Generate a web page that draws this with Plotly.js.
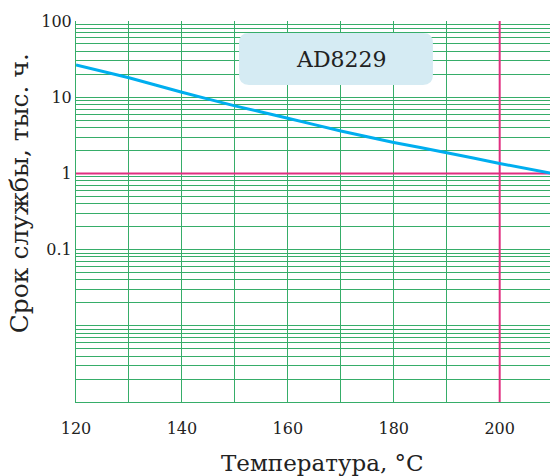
<!DOCTYPE html>
<html>
<head>
<meta charset="utf-8">
<script src="https://cdn.plot.ly/plotly-3.0.1.min.js"></script>
<style>
  html, body { margin: 0; padding: 0; background: #ffffff; }
  #chart { width: 550px; height: 476px; }
</style>
</head>
<body>
<div id="chart"></div>
<script>
// Service life of the AD8229 versus temperature
const temperatureC = [120, 130, 140, 150, 160, 170, 180, 190, 200, 210];
const lifeKHours   = [26.5, 18.0, 11.6, 7.7, 5.3, 3.6, 2.55, 1.87, 1.35, 1.0];

// Reference levels: 1 thousand hours and 200 °C
const refLifeX = [120, 210];
const refLifeY = [1, 1];
const refTempX = [200, 200];
const refTempY = [0.001, 100];

// Axis ticks
const xTickVals = [120, 130, 140, 150, 160, 170, 180, 190, 200, 210];
const xTickText = ['120', '', '140', '', '160', '', '180', '', '200', ''];
const yDecades = [0.001, 0.01, 0.1, 1, 10];
const yLabelled = { '0.1': '0.1', '1': '1', '10': '10', '100': '100' };

const yTickVals = [];
const yTickText = [];
yDecades.forEach(function (d) {
  for (let m = 1; m <= 9; m++) {
    const v = +(d * m).toPrecision(3);
    yTickVals.push(v);
    yTickText.push(m === 1 && yLabelled[String(v)] ? yLabelled[String(v)] : '');
  }
});
yTickVals.push(100);
yTickText.push('100');

const serif = 'DejaVu Serif, serif';
const gridGreen = '#36ad69';
const magenta = '#e02f80';

const traces = [
  { x: refLifeX, y: refLifeY, mode: 'lines', line: { color: magenta, width: 2 }, hoverinfo: 'skip' },
  { x: refTempX, y: refTempY, mode: 'lines', line: { color: magenta, width: 2 }, hoverinfo: 'skip' },
  { x: temperatureC, y: lifeKHours, mode: 'lines', line: { color: '#00aeef', width: 3, shape: 'spline', smoothing: 0.4 } }
];

// rounded label box in paper coordinates
const bx0 = 0.344, bx1 = 0.753, by0 = 0.832, by1 = 0.9685, rx = 0.021, ry = 0.026;
const boxPath = 'M ' + (bx0 + rx) + ' ' + by1 +
  ' L ' + (bx1 - rx) + ' ' + by1 + ' Q ' + bx1 + ' ' + by1 + ' ' + bx1 + ' ' + (by1 - ry) +
  ' L ' + bx1 + ' ' + (by0 + ry) + ' Q ' + bx1 + ' ' + by0 + ' ' + (bx1 - rx) + ' ' + by0 +
  ' L ' + (bx0 + rx) + ' ' + by0 + ' Q ' + bx0 + ' ' + by0 + ' ' + bx0 + ' ' + (by0 + ry) +
  ' L ' + bx0 + ' ' + (by1 - ry) + ' Q ' + bx0 + ' ' + by1 + ' ' + (bx0 + rx) + ' ' + by1 + ' Z';

const layout = {
  width: 550,
  height: 476,
  margin: { l: 76, r: 0, t: 21, b: 74 },
  paper_bgcolor: '#ffffff',
  plot_bgcolor: '#ffffff',
  showlegend: false,
  font: { family: serif, color: '#222222', size: 16 },
  xaxis: {
    range: [120, 209.5],
    tickvals: xTickVals,
    ticktext: xTickText,
    showgrid: true,
    gridcolor: gridGreen,
    gridwidth: 1,
    zeroline: false,
    showline: true,
    linecolor: gridGreen,
    linewidth: 1,
    ticks: '',
    ticklabelstandoff: 12,
    tickfont: { family: serif, size: 16, color: '#222222' }
  },
  yaxis: {
    type: 'log',
    range: [-3, 2],
    tickvals: yTickVals,
    ticktext: yTickText,
    showgrid: true,
    gridcolor: gridGreen,
    gridwidth: 1,
    zeroline: false,
    showline: true,
    linecolor: gridGreen,
    linewidth: 1,
    mirror: false,
    ticks: '',
    tickfont: { family: serif, size: 16, color: '#222222' }
  },
  shapes: [
    { type: 'path', xref: 'paper', yref: 'paper', path: boxPath,
      fillcolor: '#d5ebf3', line: { width: 0 }, layer: 'above' }
  ],
  annotations: [
    { xref: 'paper', yref: 'paper', x: 0.561, y: 0.9, text: 'AD8229', showarrow: false,
      xanchor: 'center', yanchor: 'middle', font: { family: serif, size: 22, color: '#222222' } },
    { xref: 'paper', yref: 'paper', x: 0.519, y: -0.16, text: 'Температура, °C', showarrow: false,
      xanchor: 'center', yanchor: 'middle', font: { family: serif, size: 23, color: '#222222' } },
    { xref: 'paper', yref: 'paper', x: -0.12, y: 0.548, text: 'Срок службы, тыс. ч.', showarrow: false,
      textangle: -90, xanchor: 'center', yanchor: 'middle', font: { family: serif, size: 25, color: '#222222' } }
  ]
};

Plotly.newPlot('chart', traces, layout, { staticPlot: true, displayModeBar: false });
</script>
</body>
</html>
